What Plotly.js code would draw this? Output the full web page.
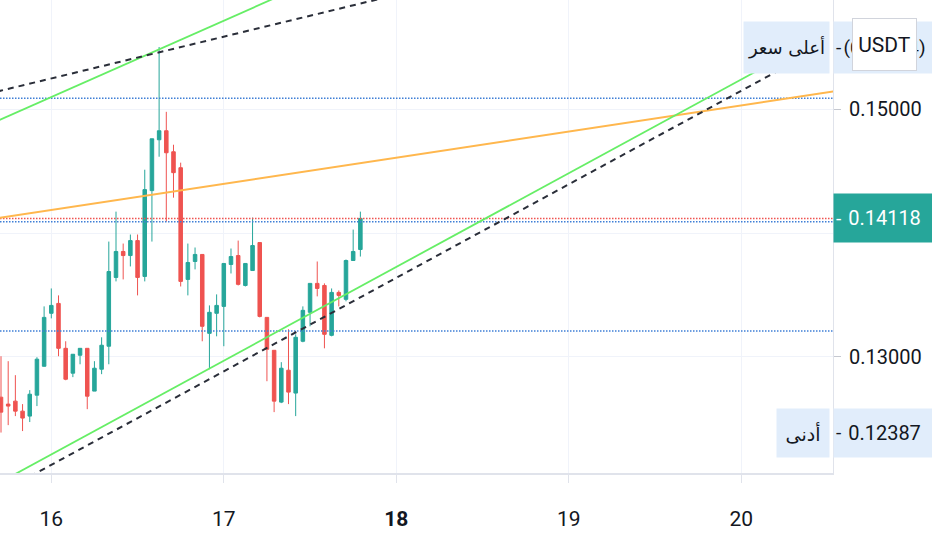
<!DOCTYPE html>
<html>
<head>
<meta charset="utf-8">
<script src="https://cdn.plot.ly/plotly-3.0.1.min.js"></script>
<style>html,body{margin:0;padding:0;background:#fff;}#chart{width:932px;height:550px;}</style>
</head>
<body>
<div id="chart"></div>
<script>
// Hourly candles, 15 17:00 -> 17 19:00
var candleTimes = [
 '2024-03-15 17:00','2024-03-15 18:00','2024-03-15 19:00','2024-03-15 20:00','2024-03-15 21:00','2024-03-15 22:00','2024-03-15 23:00',
 '2024-03-16 00:00','2024-03-16 01:00','2024-03-16 02:00','2024-03-16 03:00','2024-03-16 04:00','2024-03-16 05:00','2024-03-16 06:00',
 '2024-03-16 07:00','2024-03-16 08:00','2024-03-16 09:00','2024-03-16 10:00','2024-03-16 11:00','2024-03-16 12:00','2024-03-16 13:00',
 '2024-03-16 14:00','2024-03-16 15:00','2024-03-16 16:00','2024-03-16 17:00','2024-03-16 18:00','2024-03-16 19:00','2024-03-16 20:00',
 '2024-03-16 21:00','2024-03-16 22:00','2024-03-16 23:00','2024-03-17 00:00','2024-03-17 01:00','2024-03-17 02:00','2024-03-17 03:00',
 '2024-03-17 04:00','2024-03-17 05:00','2024-03-17 06:00','2024-03-17 07:00','2024-03-17 08:00','2024-03-17 09:00','2024-03-17 10:00',
 '2024-03-17 11:00','2024-03-17 12:00','2024-03-17 13:00','2024-03-17 14:00','2024-03-17 15:00','2024-03-17 16:00','2024-03-17 17:00',
 '2024-03-17 18:00','2024-03-17 19:00'
];
var openV = [0.12673,0.12617,0.12641,0.12560,0.12520,0.12689,0.12923,0.13351,0.13431,0.13068,0.12867,0.13012,0.13068,0.12722,
 0.12899,0.13085,0.13641,0.13851,0.13818,0.13939,0.13649,0.14343,0.14754,0.14827,0.14657,0.14528,0.13625,0.13770,
 0.13827,0.13189,0.13351,0.13407,0.13746,0.13818,0.13576,0.13697,0.13923,0.13318,0.13052,0.12633,0.12891,0.12706,
 0.13125,0.13359,0.13593,0.13576,0.13173,0.13520,0.13464,0.13778,0.13867];
var highV = [0.13004,0.12964,0.12851,0.12617,0.12730,0.12996,0.13407,0.13552,0.13496,0.13125,0.13020,0.13068,0.13068,0.12964,
 0.13157,0.13931,0.14173,0.13915,0.13988,0.13988,0.14512,0.14762,0.15504,0.14980,0.14714,0.14569,0.13915,0.13883,
 0.13827,0.13415,0.13504,0.13754,0.13875,0.13939,0.13754,0.14125,0.13923,0.13318,0.13052,0.12956,0.13222,0.13181,
 0.13407,0.13593,0.13770,0.13593,0.13552,0.13536,0.13786,0.14028,0.14173];
var lowV = [0.12387,0.12447,0.12520,0.12399,0.12472,0.12601,0.12920,0.13310,0.13004,0.12810,0.12835,0.12939,0.12576,0.12722,
 0.12859,0.12939,0.13609,0.13625,0.13730,0.13496,0.13609,0.13931,0.14617,0.14093,0.14286,0.13568,0.13496,0.13706,
 0.13125,0.12899,0.13165,0.13085,0.13673,0.13576,0.13568,0.13697,0.13318,0.12802,0.12552,0.12625,0.12617,0.12520,
 0.13117,0.13246,0.13488,0.13068,0.13165,0.13407,0.13448,0.13778,0.13810];
var closeV = [0.12552,0.12601,0.12560,0.12504,0.12697,0.12980,0.13318,0.13415,0.13068,0.12818,0.13020,0.13068,0.12681,0.12907,
 0.13093,0.13689,0.13851,0.13818,0.13939,0.13641,0.14351,0.14762,0.14827,0.14649,0.14488,0.13609,0.13762,0.13827,
 0.13246,0.13359,0.13415,0.13754,0.13810,0.13585,0.13754,0.13899,0.13326,0.13060,0.12641,0.12907,0.12714,0.13157,
 0.13375,0.13593,0.13552,0.13181,0.13520,0.13496,0.13778,0.13851,0.14118];

// Drawn trend lines (time, price endpoints)
var upperGreenX = ['2024-03-15 12:00','2024-03-17 12:00'], upperGreenY = [0.14790,0.16026];
var upperDashX  = ['2024-03-15 12:00','2024-03-18 05:00'], upperDashY  = [0.15081,0.15996];
var lowerGreenX = ['2024-03-15 17:00','2024-03-20 01:54'], lowerGreenY = [0.11989,0.15302];
var lowerDashX  = ['2024-03-15 17:00','2024-03-20 05:00'], lowerDashY  = [0.11905,0.15308];
var orangeX     = ['2024-03-15 12:00','2024-03-21 03:00'], orangeY     = [0.14080,0.15270];
// Horizontal levels
var blueLevels = [0.15090, 0.14092, 0.13208];
var lastPrice = 0.14118, highPrice = 0.15504, lowPrice = 0.12387;

// Axes
var xRange = ['2024-03-15 16:51:39','2024-03-20 12:45:36'];
var yRange = [0.12060, 0.15884];
var xTickVals = ['2024-03-16','2024-03-17','2024-03-18','2024-03-19','2024-03-20'];
var xTickText = ['16','17','<b>18</b>','19','20'];
var yTickVals = [0.13, 0.14, 0.15];
var yTickText = ['0.13000','0.14000','0.15000'];

var UP = '#26a69a', DOWN = '#ef5350';
var traces = [{
  type:'candlestick', x:candleTimes, open:openV, high:highV, low:lowV, close:closeV,
  increasing:{line:{color:UP,width:1}, fillcolor:UP},
  decreasing:{line:{color:DOWN,width:1}, fillcolor:DOWN},
  whiskerwidth:0, hoverinfo:'skip', showlegend:false
}];
function lineTrace(x,y,color,width,dash){
  return {type:'scatter', mode:'lines', x:x, y:y, line:{color:color,width:width,dash:dash||'solid'}, hoverinfo:'skip', showlegend:false};
}
blueLevels.forEach(function(v){ traces.push(lineTrace(xRange,[v,v],'#3f7fd6',1.5,'1.5px,1.5px')); });
traces.push(lineTrace(xRange,[lastPrice,lastPrice],'#ef5350',1.5,'1.5px,1.5px'));
traces.push(lineTrace(orangeX,orangeY,'#ffb74d',2));
traces.push(lineTrace(upperGreenX,upperGreenY,'#66ee66',1.8));
traces.push(lineTrace(lowerGreenX,lowerGreenY,'#66ee66',1.8));
traces.push(lineTrace(upperDashX,upperDashY,'#2a2e39',2,'6px,5px'));
traces.push(lineTrace(lowerDashX,lowerDashY,'#2a2e39',2,'6px,5px'));

var TXT = '#131722', LBL = '#e1edfb', FONT = 'Roboto, sans-serif', AR = '"DejaVu Sans", "Noto Sans", sans-serif';
var ann = [
  {xref:'paper',yref:'y',x:1,y:highPrice,xanchor:'right',yanchor:'middle',xshift:-3,text:'أعلى سعر',width:83,height:49,bgcolor:LBL,showarrow:false,font:{family:AR,size:18,color:TXT}},
  {xref:'paper',yref:'y',x:1,y:highPrice,xanchor:'left',yanchor:'middle',text:'(0.15504)',width:99,height:49,bgcolor:LBL,showarrow:false,font:{family:FONT,size:19,color:TXT}},
  {xref:'paper',yref:'y',x:1,y:lastPrice,xanchor:'left',yanchor:'middle',text:'0.14118',width:99,height:46,bgcolor:UP,showarrow:false,font:{family:FONT,size:20,color:'#ffffff'}},
  {xref:'paper',yref:'y',x:1,y:lowPrice,xanchor:'right',yanchor:'middle',xshift:-3,text:'أدنى',width:50,height:46,bgcolor:LBL,showarrow:false,font:{family:AR,size:19,color:TXT}},
  {xref:'paper',yref:'y',x:1,y:lowPrice,xanchor:'left',yanchor:'middle',text:'0.12387',width:99,height:46,bgcolor:LBL,showarrow:false,font:{family:FONT,size:20,color:TXT}},
  {xref:'paper',yref:'y',x:1,y:highPrice,xanchor:'left',yanchor:'middle',xshift:1,text:'-',showarrow:false,font:{family:FONT,size:19,color:TXT}},
  {xref:'paper',yref:'y',x:1,y:lastPrice,xanchor:'left',yanchor:'middle',xshift:1,text:'-',showarrow:false,font:{family:FONT,size:19,color:'#ffffff'}},
  {xref:'paper',yref:'y',x:1,y:lowPrice,xanchor:'left',yanchor:'middle',xshift:1,text:'-',showarrow:false,font:{family:FONT,size:19,color:TXT}},
  {xref:'paper',yref:'paper',x:1,y:1,xanchor:'left',yanchor:'top',xshift:19,yshift:-18,text:'USDT',width:61,height:49,bgcolor:'#ffffff',bordercolor:'#d1d4dc',borderwidth:1,showarrow:false,font:{family:FONT,size:21,color:TXT}}
];

var layout = {
  width:932, height:550, margin:{l:0,r:99,t:0,b:77},
  paper_bgcolor:'#ffffff', plot_bgcolor:'#ffffff', showlegend:false,
  xaxis:{type:'date', range:xRange, rangeslider:{visible:false}, tickmode:'array', tickvals:xTickVals, ticktext:xTickText,
    showgrid:true, gridcolor:'#f0f3fa', gridwidth:1, showline:true, linecolor:'#e0e3eb', linewidth:2,
    ticks:'outside', ticklen:8, tickcolor:'#e0e3eb', ticklabelstandoff:18,
    tickfont:{family:FONT,size:21,color:TXT}, zeroline:false, fixedrange:true},
  yaxis:{side:'right', range:yRange, tickmode:'array', tickvals:yTickVals, ticktext:yTickText,
    showgrid:true, gridcolor:'#f0f3fa', gridwidth:1, showline:true, linecolor:'#e0e3eb', linewidth:1,
    ticks:'outside', ticklen:7, tickcolor:'#c5c8d0', ticklabelstandoff:4,
    tickfont:{family:FONT,size:20,color:TXT}, zeroline:false, fixedrange:true},
  annotations:ann
};
Plotly.newPlot('chart', traces, layout, {staticPlot:true, displayModeBar:false});
</script>
</body>
</html>
